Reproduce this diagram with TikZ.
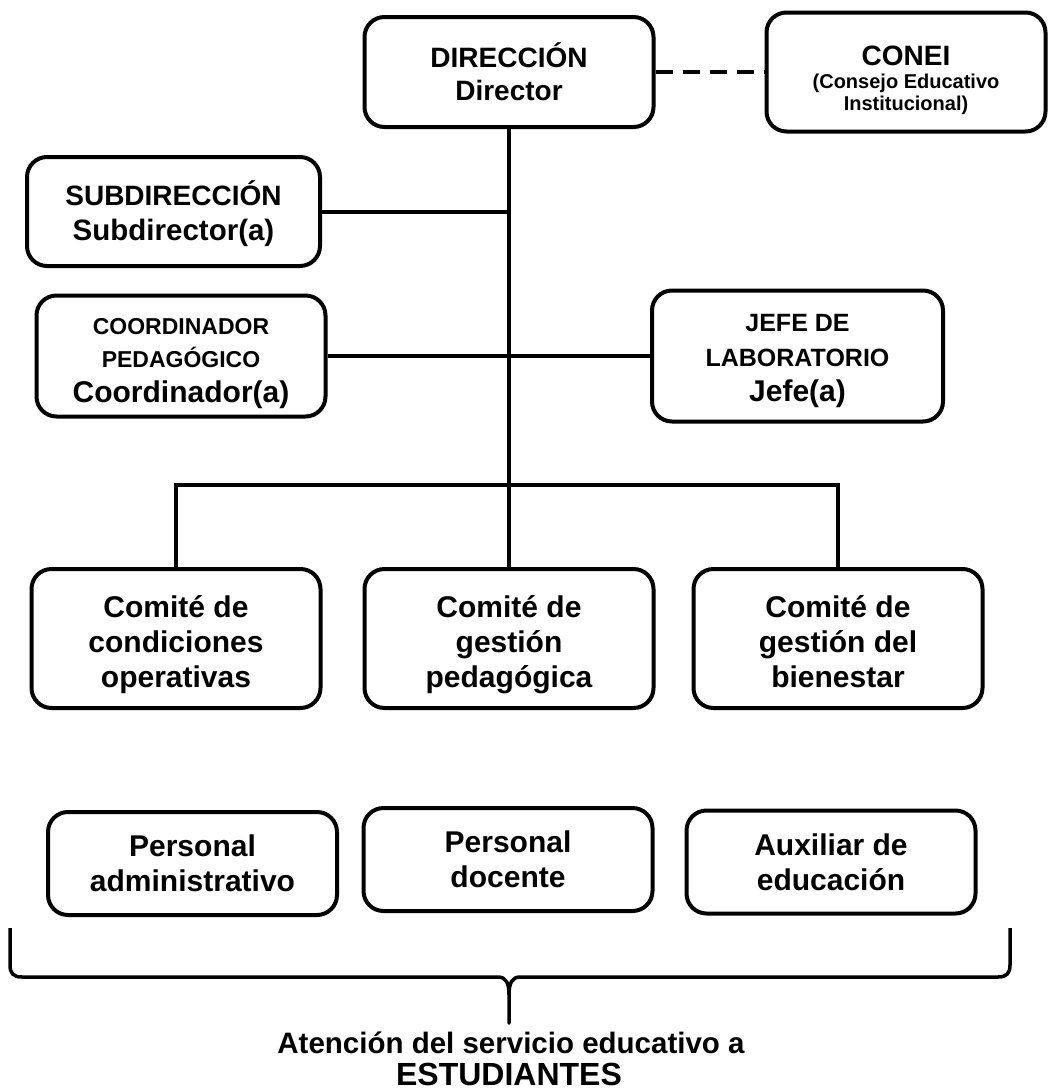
\documentclass[tikz,border=0pt]{standalone}
\usepackage{fontspec}
\setmainfont{Liberation Sans}

\begin{document}
\begin{tikzpicture}[x=1pt, y=-1pt,
    caja/.style={draw, line width=4pt, rounded corners=20pt, align=center, inner sep=0pt,
        minimum width=289pt, font=\bfseries\fontsize{30}{35}\selectfont},
    linea/.style={line width=4pt}]
    \useasboundingbox (0,0) rectangle (1051,1090);
    \node [caja, minimum height=110pt, font=\bfseries\fontsize{28}{33}\selectfont] (dir) at (509,72)
        {DIRECCIÓN\\Director};
    \node [caja, minimum width=279pt, minimum height=119pt, font=\bfseries\fontsize{20}{22}\selectfont] (conei) at (906,72)
        {{\fontsize{28}{22}\selectfont\rule{0pt}{36pt}CONEI}\\[1pt](Consejo Educativo\\Institucional)};
    \node [caja, minimum width=293pt, minimum height=109pt, font=\bfseries\fontsize{28}{35}\selectfont] (sub) at (173.5,211.5)
        {\rule{0pt}{30pt}SUBDIRECCIÓN\\{\fontsize{29.5}{35}\selectfont Subdirector(a)}};
    \node [caja, minimum height=121pt, font=\bfseries\fontsize{23}{33}\selectfont] (coord) at (181,356)
        {\rule{0pt}{31pt}COORDINADOR\\PEDAGÓGICO\\[2pt]{\fontsize{30}{33}\selectfont Coordinador(a)}};
    \node [caja, minimum width=291pt, minimum height=131pt, font=\bfseries\fontsize{25}{35}\selectfont] (jefe) at (797.5,356)
        {\rule{0pt}{28pt}JEFE DE\\LABORATORIO\\{\fontsize{30}{35}\selectfont Jefe(a)}};
    \foreach \n/\x/\t in {com1/176/{Comité de\\condiciones\\operativas},
                          com2/509/{Comité de\\gestión\\pedagógica},
                          com3/838/{Comité de\\gestión del\\bienestar}}
        \node [caja, minimum height=139pt, text depth=6pt] (\n) at (\x,638.5) {\rule{0pt}{34pt}\t};
    \foreach \n/\x/\y/\t in {per1/192.5/863.5/{Personal\\administrativo},
                             per2/508/859.5/{Personal\\docente},
                             per3/831/862/{Auxiliar de\\educación}}
        \node [caja, minimum height=103pt] (\n) at (\x,\y) {\t};
    \coordinate (bus) at (509,485);
    \draw [linea] (dir.south) -- (com2.north);
    \draw [linea] (com1.north) |- (bus) -| (com3.north);
    \draw [linea] (sub.east) -- (sub.east -| dir.south);
    \draw [linea] (coord.east) -- (jefe.west);
    \draw [linea, dash pattern=on 17pt off 10pt] (dir.east) -- (conei.west);
    \draw [line width=3.5pt, line join=round] (10,928) -- (10,965) .. controls (10,973) and (13,977) .. (22,977)
        -- (498,977) .. controls (506,977) and (509,983) .. (509,995) -- (509,1023)
        -- (509,995) .. controls (509,983) and (512,977) .. (520,977)
        -- (998,977) .. controls (1007,977) and (1010,973) .. (1010,965) -- (1010,928);
    \node [anchor=base, font=\bfseries\fontsize{29.5}{35}\selectfont] (atencion) at (511,1053)
        {Atención del servicio educativo a};
    \node [anchor=base, font=\bfseries\fontsize{32}{35}\selectfont] (estudiantes) at (509,1085)
        {ESTUDIANTES};
\end{tikzpicture}
\end{document}
